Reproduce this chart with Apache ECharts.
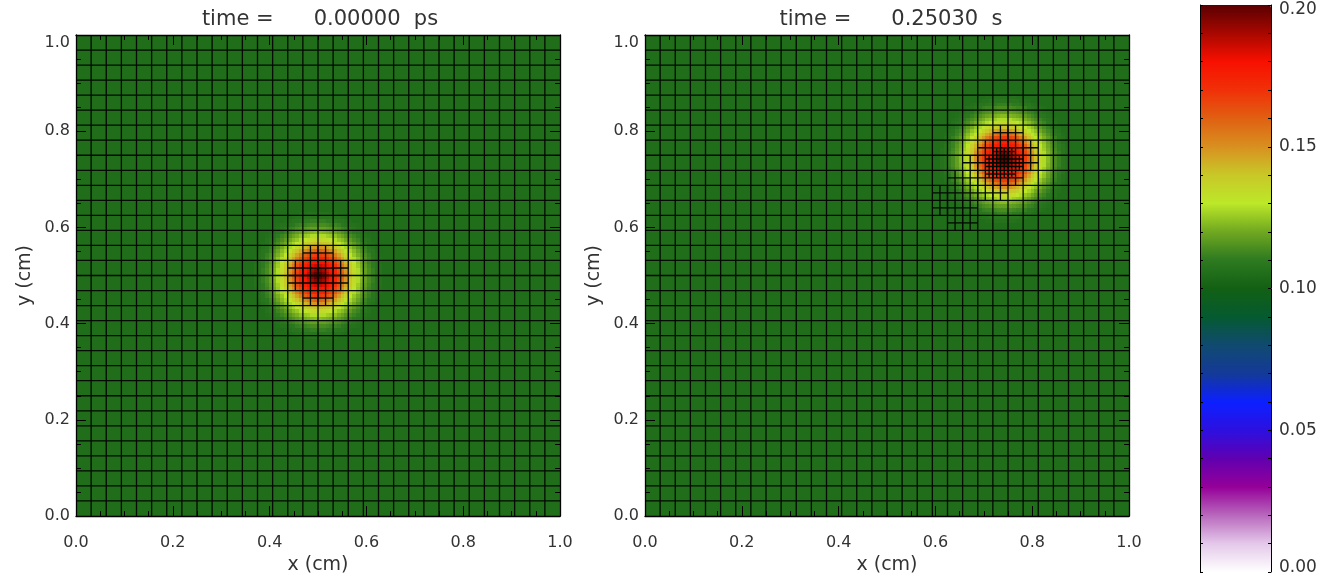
<!DOCTYPE html>
<html><head><meta charset="utf-8">
<style>html,body{margin:0;padding:0;background:#fff}#c{width:1330px;height:577px}</style>
<script src="https://cdn.jsdelivr.net/npm/echarts@6/dist/echarts.min.js"></script>
</head><body><div id="c"></div>
<script>
const titles = ['time =      0.00000  ps', 'time =      0.25030  s'];
const xName = 'x (cm)', yName = 'y (cm)';
const backgroundValue = 0.105;
// Blob centres in 1/128 cm cells
const blobCentres = [[64, 64], [95, 95]];
// One quadrant of the blob, value x1000, per 1/128 cm cell from the centre outward
const blobQuadrant = [
[199,194,186,179,174,168,160,150,141,135,128,123,118,114,111,108,107],
[194,190,183,177,173,166,158,149,140,134,128,122,118,114,111,108,107],
[186,183,179,175,170,164,155,146,139,133,126,121,117,113,110,108,107],
[179,177,175,171,166,160,151,143,137,131,125,120,116,112,110,108,106],
[174,173,170,166,161,154,146,140,134,128,124,119,115,112,109,107,106],
[168,166,164,160,154,147,141,136,131,125,121,117,114,111,108,107,105],
[160,158,155,151,146,141,137,132,127,123,119,115,112,109,108,106,105],
[150,149,146,143,140,136,132,127,124,120,116,113,111,108,107,105,105],
[141,140,139,137,134,131,127,124,120,117,114,111,109,107,106,105,105],
[135,134,133,131,128,125,123,120,117,114,112,109,108,107,105,105,105],
[128,128,126,125,124,121,119,116,114,112,110,108,107,106,105,105,105],
[123,122,121,120,119,117,115,113,111,109,108,107,106,105,105,105,105],
[118,118,117,116,115,114,112,111,109,108,107,106,105,105,105,105,105],
[114,114,113,112,112,111,109,108,107,107,106,105,105,105,105,105,105],
[111,111,110,110,109,108,108,107,106,105,105,105,105,105,105,105,105],
[108,108,108,108,107,107,106,105,105,105,105,105,105,105,105,105,105],
[107,107,107,106,106,105,105,105,105,105,105,105,105,105,105,105,105]
];
// Colour table, one stop per 0.01 from 0.00 to 0.20
const colourStops = ['#ffffff','#e4c8ea','#b868bc','#950098','#6000b0','#2c10e0','#0c20ff','#143a98','#104a70','#055a30','#126014','#2e7a20','#70a820','#bce828','#c8c828','#d89020','#e06012','#f03008','#f81000','#a80800','#5a0000'];
// Refined mesh blocks, in 1/32 cm units: [x0, x1, y0, y1]
const refineLeft = [[15,17,14,15],[14,18,15,17],[15,17,17,18]];
const refineRight = [[23,25,25,26],[22,26,24,25],[21,26,23,24],[20,25,22,23],[19,24,21,22],[19,22,20,21],[20,22,19,20]];
// Finest mesh blocks (1/128 cm spacing), same units
const finestRight = [[23,24.5,24,24.5],[22.5,25,23,24],[22.5,24.5,22.5,23]];
const coarseCount = 32;

function cells(centre) {
  const out = [[0, 0, 128, backgroundValue]];
  blobQuadrant.forEach((row, j) => row.forEach((v, i) => {
    [[1, 1], [-1, 1], [1, -1], [-1, -1]].forEach(([sx, sy]) => {
      const cx = sx > 0 ? centre[0] + i : centre[0] - i - 1;
      const cy = sy > 0 ? centre[1] + j : centre[1] - j - 1;
      out.push([cx, cy, 1, v / 1000]);
    });
  }));
  return out.map(d => [d[0] / 128, d[1] / 128, d[2] / 128, d[3]]);
}
function segments(refined, finest) {
  const seg = [];
  for (let k = 1; k < coarseCount; k++) {
    seg.push([k / 32, 0, k / 32, 1], [0, k / 32, 1, k / 32]);
  }
  const add = (blocks, step) => blocks.forEach(([x0, x1, y0, y1]) => {
    for (let x = x0 + step; x < x1; x += step) seg.push([x / 32, y0 / 32, x / 32, y1 / 32]);
    for (let y = y0 + step; y < y1; y += step) seg.push([x0 / 32, y / 32, x1 / 32, y / 32]);
  });
  add(refined, 0.5);
  add(finest, 0.25);
  return seg;
}
const font = 'DejaVu Sans';
const textColour = '#333333';
function panelX(grid, pos, labelled) {
  return {
    gridIndex: grid, type: 'value', min: 0, max: 1, interval: 0.2, position: pos, z: 6,
    name: labelled ? xName : '', nameLocation: 'middle', nameGap: 39,
    nameTextStyle: { fontFamily: font, fontSize: 19, color: textColour },
    splitLine: { show: false },
    axisLine: { show: true, onZero: false, lineStyle: { color: '#000', width: 1.3 } },
    axisTick: { show: true, inside: true, length: 10, lineStyle: { color: '#000' } },
    minorTick: { show: true, splitNumber: 4, length: 5, lineStyle: { color: '#000' } },
    axisLabel: { show: labelled, margin: 19, fontFamily: font, fontSize: 16, color: textColour, formatter: v => v.toFixed(1) }
  };
}
function panelY(grid, pos, labelled) {
  return {
    gridIndex: grid, type: 'value', min: 0, max: 1, interval: 0.2, position: pos, z: 6,
    name: labelled ? yName : '', nameLocation: 'middle', nameGap: 41,
    nameTextStyle: { fontFamily: font, fontSize: 19, color: textColour },
    splitLine: { show: false },
    axisLine: { show: true, onZero: false, lineStyle: { color: '#000', width: 1.3 } },
    axisTick: { show: true, inside: true, length: 10, lineStyle: { color: '#000' } },
    minorTick: { show: true, splitNumber: 4, length: 5, lineStyle: { color: '#000' } },
    axisLabel: { show: labelled, margin: 6, fontFamily: font, fontSize: 16, color: textColour,
      formatter: v => v === 1 ? '{hi|1.0}' : v.toFixed(1),
      rich: { hi: { fontFamily: font, fontSize: 16, color: textColour, padding: [16, 0, 0, 0] } } }
  };
}
function barY(pos, labelled) {
  return {
    gridIndex: 2, type: 'value', min: 0, max: 0.2, interval: 0.05, position: pos, z: 6,
    splitLine: { show: false },
    axisLine: { show: true, onZero: false, lineStyle: { color: '#000', width: 1 } },
    axisTick: { show: true, inside: true, length: 3, lineStyle: { color: '#000' } },
    minorTick: { show: true, splitNumber: 5, length: 3, lineStyle: { color: '#000' } },
    axisLabel: { show: labelled, margin: 8, fontFamily: font, fontSize: 17, color: textColour,
      formatter: v => {
        const t = v.toFixed(2);
        return v === 0.2 ? '{hi|' + t + '}' : v === 0 ? '{lo|' + t + '}' : t;
      },
      rich: {
        hi: { fontFamily: font, fontSize: 17, color: textColour, padding: [10, 0, 0, 0] },
        lo: { fontFamily: font, fontSize: 17, color: textColour, padding: [0, 0, 8, 0] }
      } }
  };
}
function cellSeries(grid, data) {
  return {
    type: 'custom', xAxisIndex: grid * 2, yAxisIndex: grid * 2, z: 1, silent: true, data,
    encode: { x: [0], y: [1] },
    renderItem(params, api) {
      const s = api.value(2);
      const a = api.coord([api.value(0), api.value(1) + s]);
      const b = api.coord([api.value(0) + s, api.value(1)]);
      const x = Math.round(a[0]), y = Math.round(a[1]);
      return { type: 'rect', shape: { x, y, width: Math.round(b[0]) - x, height: Math.round(b[1]) - y },
        style: { fill: api.visual('color') } };
    }
  };
}
function meshSeries(grid, data) {
  return {
    type: 'custom', xAxisIndex: grid * 2, yAxisIndex: grid * 2, z: 2, silent: true, data,
    encode: { x: [0, 2], y: [1, 3] },
    renderItem(params, api) {
      const a = api.coord([api.value(0), api.value(1)]);
      const b = api.coord([api.value(2), api.value(3)]);
      return { type: 'line', shape: { x1: a[0], y1: a[1], x2: b[0], y2: b[1] },
        style: { stroke: '#020a02', lineWidth: 1.3 } };
    }
  };
}
const chart = echarts.init(document.getElementById('c'), null, { renderer: 'canvas' });
chart.setOption({
  animation: false,
  backgroundColor: '#fff',
  title: titles.map((t, i) => ({
    text: t, left: i === 0 ? 315 : 886, top: 4, textAlign: 'center',
    textStyle: { fontFamily: font, fontSize: 21, fontWeight: 'normal', color: textColour }
  })),
  grid: [
    { left: 76, top: 35, width: 484, height: 481, outerBoundsMode: 'none' },
    { left: 645, top: 35, width: 484, height: 481, outerBoundsMode: 'none' },
    { left: 1200, top: 5, width: 71, height: 567, outerBoundsMode: 'none' }
  ],
  xAxis: [
    panelX(0, 'bottom', true), panelX(0, 'top', false),
    panelX(1, 'bottom', true), panelX(1, 'top', false),
    { gridIndex: 2, type: 'value', min: 0, max: 1, show: false }
  ],
  yAxis: [
    panelY(0, 'left', true), panelY(0, 'right', false),
    panelY(1, 'left', true), panelY(1, 'right', false),
    barY('left', false), barY('right', true)
  ],
  visualMap: {
    type: 'continuous', min: 0, max: 0.2, dimension: 3, seriesIndex: [0, 2],
    inRange: { color: colourStops }, left: 1200, top: 5, itemWidth: 71, itemHeight: 567,
    padding: 0, text: null, calculable: false, hoverLink: false, z: 1
  },
  series: [
    cellSeries(0, cells(blobCentres[0])),
    meshSeries(0, segments(refineLeft, [])),
    cellSeries(1, cells(blobCentres[1])),
    meshSeries(1, segments(refineRight, finestRight))
  ]
});
</script></body></html>
